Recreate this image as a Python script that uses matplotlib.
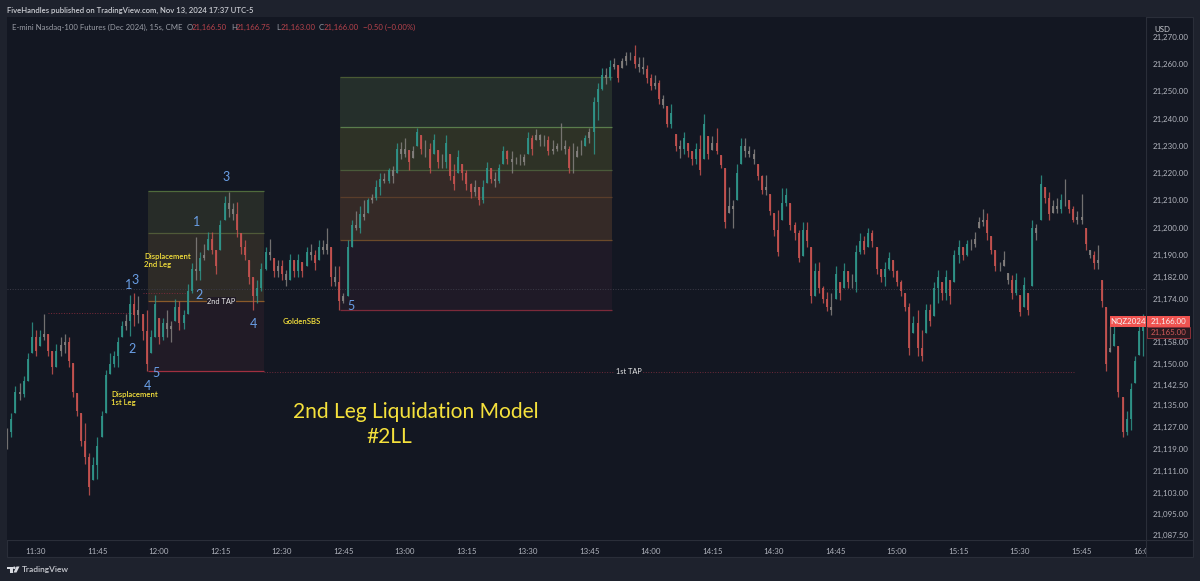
import numpy as np
import matplotlib
matplotlib.use("Agg")
import matplotlib.pyplot as plt
from matplotlib.patches import Rectangle, Polygon, Circle
from matplotlib.transforms import Bbox

plt.rcParams['font.family'] = ['Lato', 'DejaVu Sans']

BG = "#131722"
STRIP = "#1e222d"
BORDER = "#2a2e39"
UP = "#2f9489"
DOWN = "#c4524f"
MIXED = "#84807e"
YELLOW = "#f5e13c"
BLUE = "#6a9fe6"

# one bar per minute, first bar is 11:23
start_minute = 11 * 60 + 23

highs = [
    21126.5, 21132, 21142, 21143, 21145.5, 21154, 21165.5, 21162.5, 21162.5, 21168.5,
    21161, 21155, 21157.5, 21160, 21161, 21160, 21150.5, 21139.5, 21132, 21128.5,
    21117.5, 21116, 21123.5, 21133, 21148, 21154, 21155, 21160, 21166, 21168.5,
    21175.5, 21176, 21175, 21168.5, 21170, 21162.5, 21175.5, 21167, 21167, 21170,
    21166, 21174, 21173, 21170, 21179.5, 21187, 21196.5, 21191, 21194, 21198.5,
    21198.5, 21192, 21203, 21211.5, 21213, 21209, 21209.5, 21198, 21195.5, 21188,
    21182, 21181, 21187, 21193, 21196, 21189, 21188, 21188, 21184.5, 21190.5,
    21188, 21190.5, 21187.5, 21193, 21194, 21192, 21195.5, 21195.5, 21200, 21193,
    21186, 21186, 21176, 21195.5, 21203, 21206, 21208, 21210, 21211, 21212.5,
    21217.5, 21220, 21220, 21222, 21222.5, 21231, 21231.5, 21233, 21228.5, 21230,
    21236.5, 21234, 21232, 21231, 21234.5, 21228.5, 21227, 21234, 21227, 21223.5,
    21228.5, 21223.5, 21221, 21216.5, 21217.5, 21215, 21217.5, 21224, 21222, 21220.5,
    21223.5, 21230, 21228.5, 21228, 21226, 21227, 21227, 21235, 21234, 21236,
    21234.5, 21234, 21233.5, 21232, 21231, 21238.5, 21232, 21230, 21231, 21230,
    21232, 21234, 21236.5, 21248, 21253, 21258.5, 21258.5, 21261.5, 21262, 21259.5,
    21262, 21264.5, 21264.5, 21267, 21262.5, 21262.5, 21259.5, 21256.5, 21256, 21254,
    21248.5, 21244.5, 21245.5, 21234.5, 21232, 21235, 21231, 21228, 21231, 21234,
    21241.5, 21233.5, 21233.5, 21236.5, 21226.5, 21222, 21215, 21210, 21223.5, 21233,
    21233, 21230, 21229, 21223.5, 21219.5, 21219.5, 21212.5, 21205.5, 21206.5, 21214.5,
    21214.5, 21209, 21202, 21199, 21202, 21202, 21193, 21187, 21187.5, 21178.5,
    21176.5, 21176, 21186, 21180, 21187, 21184, 21183, 21193.5, 21198, 21197,
    21200, 21199, 21193, 21185, 21187.5, 21191, 21188, 21184.5, 21181, 21176,
    21172.5, 21167.5, 21170, 21162.5, 21172, 21172, 21180, 21184.5, 21180, 21184.5,
    21181, 21192, 21195.5, 21193, 21195.5, 21196, 21198.5, 21204, 21207, 21205.5,
    21197, 21192, 21187.5, 21191.5, 21183.5, 21182.5, 21183.5, 21175.5, 21182, 21176,
    21203, 21201.5, 21219.5, 21215, 21213, 21210, 21211, 21212.5, 21218, 21210,
    21208, 21206, 21212.5, 21200, 21192, 21191.5, 21193.5, 21181, 21171, 21164,
    21164, 21156.5, 21138, 21133, 21143, 21153, 21164, 21168.5,
]
lows = [
    21119, 21123.5, 21132, 21137, 21138, 21144, 21154, 21153, 21156.5, 21159,
    21153, 21146.5, 21149, 21153, 21154, 21149, 21138, 21131, 21120, 21113.5,
    21102, 21107.5, 21108, 21123.5, 21132, 21146.5, 21149, 21149, 21160, 21162.5,
    21160.5, 21164, 21165, 21159, 21147.5, 21154, 21160, 21157.5, 21159, 21160,
    21158, 21166, 21162.5, 21163, 21168.5, 21176, 21181, 21181, 21188, 21192,
    21190.5, 21183, 21192, 21203, 21204, 21203, 21196.5, 21190.5, 21188, 21179.5,
    21170, 21172.5, 21177, 21184.5, 21188, 21182, 21182, 21181, 21178.5, 21181,
    21182, 21182, 21182, 21186, 21188, 21184.5, 21188, 21190.5, 21190.5, 21178.5,
    21178.5, 21170, 21172.5, 21175, 21193, 21199, 21198, 21203, 21205.5, 21209,
    21210, 21212, 21216.5, 21216.5, 21216.5, 21220, 21225, 21226, 21221, 21225.5,
    21230, 21227, 21226, 21220, 21227, 21222, 21222, 21222, 21217.5, 21214,
    21220, 21217.5, 21214, 21211, 21211.5, 21208.5, 21209, 21216.5, 21216.5, 21215,
    21216.5, 21223.5, 21223.5, 21220, 21223.5, 21223, 21223, 21227, 21226.5, 21232,
    21230, 21230, 21226.5, 21227, 21228, 21228.5, 21227, 21220, 21220, 21226,
    21226.5, 21230, 21231, 21227, 21239.5, 21250.5, 21252.5, 21254, 21258, 21253.5,
    21258.5, 21259.5, 21261.5, 21258.5, 21257, 21256.5, 21253, 21250.5, 21251, 21245.5,
    21244, 21237, 21236.5, 21228, 21225.5, 21227, 21226, 21223, 21223.5, 21219.5,
    21225, 21225, 21228.5, 21227, 21222, 21200, 21205.5, 21200, 21210, 21223.5,
    21226, 21226, 21223.5, 21217.5, 21212.5, 21212, 21204.5, 21197, 21189.5, 21203,
    21208, 21199, 21195.5, 21187.5, 21189.5, 21193, 21172.5, 21175, 21176, 21172.5,
    21169.5, 21168, 21174, 21173.5, 21178, 21178, 21178, 21176.5, 21190.5, 21190.5,
    21193, 21193, 21183, 21180, 21178.5, 21184.5, 21182, 21178.5, 21175, 21169.5,
    21153.5, 21161.5, 21153, 21151, 21161.5, 21164, 21167.5, 21172.5, 21173.5, 21173.5,
    21172, 21180, 21187, 21188, 21189.5, 21192, 21193, 21200, 21200.5, 21195.5,
    21190.5, 21184, 21184, 21186, 21179.5, 21174, 21175.5, 21167.5, 21171, 21168,
    21178.5, 21195.5, 21203, 21209, 21203, 21205.5, 21205.5, 21205.5, 21208, 21205.5,
    21202, 21201.5, 21201.5, 21192, 21189, 21185, 21185, 21171, 21147.5, 21154.5,
    21156.5, 21138, 21123.5, 21124, 21126, 21143, 21153.5, 21153,
]
closes = [
    21125, 21130, 21140, 21139, 21144, 21152, 21160, 21155, 21160, 21161,
    21155, 21149, 21155, 21157, 21158, 21151, 21140, 21133, 21122, 21116,
    21105, 21113, 21120, 21131, 21146, 21150, 21153, 21158, 21164, 21166,
    21172, 21168, 21170, 21162, 21150, 21160, 21172, 21160, 21165, 21163,
    21164, 21171, 21165, 21168, 21177, 21185, 21184, 21189, 21190, 21196,
    21192, 21186, 21201, 21209, 21207, 21205, 21199, 21193, 21190, 21182,
    21175, 21178, 21185, 21191, 21190, 21184, 21186, 21183, 21181, 21188,
    21184, 21188, 21184, 21191, 21190, 21187, 21193, 21192, 21194, 21182,
    21180, 21173, 21175, 21193, 21201, 21200, 21205, 21204, 21210, 21211,
    21215, 21218, 21217, 21221, 21219, 21229, 21227, 21229, 21224, 21228,
    21235, 21229, 21229, 21222, 21232, 21224, 21224, 21231, 21219, 21216,
    21226, 21220, 21216, 21213, 21215, 21210, 21215, 21222, 21218, 21217,
    21222, 21228, 21225, 21224, 21224, 21224, 21226, 21233, 21229, 21234,
    21232, 21232, 21228, 21229, 21230, 21230, 21229, 21222, 21222, 21228,
    21228, 21233, 21235, 21246, 21251, 21256, 21255, 21259, 21260, 21255,
    21261, 21263, 21263, 21260, 21259, 21258, 21255, 21252, 21253, 21247,
    21245, 21238, 21242, 21230, 21229, 21233, 21228, 21225, 21229, 21221,
    21238, 21227, 21231, 21228, 21223, 21202, 21208, 21207, 21220, 21230,
    21228, 21227, 21225, 21219, 21214, 21215, 21206, 21199, 21191, 21209,
    21212, 21201, 21198, 21189, 21199, 21195, 21175, 21184, 21178, 21174,
    21171, 21170, 21183, 21176, 21184, 21180, 21180, 21191, 21195, 21192,
    21198, 21195, 21185, 21182, 21185, 21189, 21184, 21180, 21177, 21171,
    21156, 21165, 21156, 21153, 21170, 21166, 21178, 21182, 21176, 21182,
    21175, 21190, 21193, 21190, 21194, 21194, 21196, 21202, 21203, 21198,
    21192, 21186, 21186, 21188, 21181, 21176, 21181, 21169, 21179, 21170,
    21200, 21198, 21216, 21211, 21205, 21208, 21207, 21210, 21210, 21207,
    21203, 21204, 21203, 21194, 21190, 21187, 21188, 21173, 21150, 21156,
    21161, 21140, 21125, 21130, 21141, 21151, 21162, 21166,
]

# time axis
time_ticks = [690, 705, 720, 735, 750, 765, 780, 795, 810, 825, 840, 855, 870, 885, 900, 915, 930, 945, 960]
time_labels = ["11:30", "11:45", "12:00", "12:15", "12:30", "12:45", "13:00", "13:15", "13:30", "13:45",
               "14:00", "14:15", "14:30", "14:45", "15:00", "15:15", "15:30", "15:45", "16:00"]
# price axis
price_ticks = [21270, 21260, 21250, 21240, 21230, 21220, 21210, 21200, 21190, 21182, 21174,
               21158, 21150, 21142.5, 21135, 21127, 21119, 21111, 21103, 21095, 21087.5]

# fib boxes: minute from / to, level prices top to bottom
box1_span = (717.2, 745.7)
box1_levels = [21213.5, 21198, 21173, 21147.6]
box1_fills = ["#272c28", "#2e2b27", "#211b26"]
box1_lines = ["#4f6b3c", "#4f5a38", "#8a5a2a", "#a03040"]
box2_span = (764.1, 830.4)
box2_levels = [21255.1, 21236.9, 21221.2, 21211.4, 21195.5, 21169.9]
box2_fills = ["#252f2b", "#2e3226", "#352a27", "#352a27", "#1f1a27"]
box2_lines = ["#4a5a34", "#5a7d4c", "#4a5a3a", "#5a3d2a", "#6b4a2a", "#7c2a3a"]

fig = plt.figure(figsize=(12, 5.81), dpi=100, facecolor=STRIP)

# panels behind the chart
back = fig.add_axes([0, 0, 1, 1], zorder=0)
back.set_xlim(0, 1200)
back.set_ylim(581, 0)
back.axis("off")
back.add_patch(Rectangle((7, 17), 1186, 540, fc=BG, ec=BORDER, lw=0.8))
back.plot([7, 1193], [540, 540], color=BORDER, lw=0.8)
back.plot([1146, 1146], [17, 557], color=BORDER, lw=0.8)

ax = fig.add_axes([7 / 1200, 41 / 581, 1139 / 1200, 523 / 581], zorder=1)
ax.set_facecolor(BG)
ax.set_xlim(682.93, 960.73)
ax.set_ylim(21085.6, 21277.2)
for s in ax.spines.values():
    s.set_visible(False)

ax.yaxis.tick_right()
ax.set_yticks(price_ticks)
ax.set_yticklabels(["{:,.2f}".format(p) for p in price_ticks])
ax.set_xticks(time_ticks)
ax.set_xticklabels(time_labels)
ax.tick_params(axis="y", length=0, pad=5, labelsize=5.7, labelcolor="#b2b5be")
ax.tick_params(axis="x", length=0, pad=5.5, labelsize=5.7, labelcolor="#b2b5be")
for lab in ax.get_xticklabels():
    lab.set_clip_on(True)
    lab.set_clip_box(Bbox.from_extents(7, 0, 1146, 60))

def draw_box(span, levels, fills, lines):
    for i in range(len(fills)):
        ax.fill_between(span, levels[i + 1], levels[i], color=fills[i], lw=0, zorder=1)
    for lev, c in zip(levels, lines):
        ax.hlines(lev, span[0], span[1], color=c, lw=0.9, zorder=2)

draw_box(box1_span, box1_levels, box1_fills, box1_lines)
draw_box(box2_span, box2_levels, box2_fills, box2_lines)

# dotted levels
ax.axhline(21177.5, color="#3d3c48", lw=0.7, ls=":", zorder=2)
ax.hlines(21168.7, 693, 713.5, color="#7c2a3a", lw=0.7, ls=":", zorder=2)
ax.hlines(21176, 716, 727, color="#7c2a3a", lw=0.7, ls=":", zorder=2)
ax.hlines(21147.3, 745.7, 943.5, color="#6e2a3a", lw=0.7, ls=":", zorder=2)

# candles, bars with almost no body look grey in the 15s original
highs = np.array(highs)
lows = np.array(lows)
closes = np.array(closes, dtype=float)
opens = np.clip(np.r_[closes[0], closes[:-1]], lows, highs)
closes = np.clip(closes, lows, highs)
minutes = start_minute + np.arange(len(closes))
cols = np.where(np.abs(closes - opens) < 3, MIXED, np.where(closes > opens, UP, DOWN))
ax.vlines(minutes, lows, highs, colors=cols, lw=0.9, alpha=0.85, zorder=3)
ax.vlines(minutes, opens, closes, colors=cols, lw=1.3, zorder=4)

# everything written over the chart, placed in picture pixels
top = fig.add_axes([0, 0, 1, 1], zorder=2)
top.set_xlim(0, 1200)
top.set_ylim(581, 0)
top.axis("off")
top.patch.set_alpha(0)

top.text(7, 10, "FiveHandles published on TradingView.com, Nov 13, 2024 17:37 UTC-5",
         color="#c9cbd1", fontsize=5.55, va="center", weight="semibold")
top.text(12, 27, "E-mini Nasdaq-100 Futures (Dec 2024), 15s, CME", color="#9a9da6", fontsize=5.6, va="center")
legend_red = "#b8434c"
for x, letter, val in [(187, "O", "21,166.50"), (231, "H", "21,166.75"), (276, "L", "21,163.00"), (319, "C", "21,166.00")]:
    top.text(x, 27, letter, color="#9a9da6", fontsize=5.6, va="center")
    top.text(x + 5, 27, val, color=legend_red, fontsize=5.6, va="center")
top.text(363, 27, "\u22120.50 (\u22120.00%)", color=legend_red, fontsize=5.6, va="center")
top.text(1154, 29, "USD", color="#c9cbd1", fontsize=5.7, va="center")

# price flags
top.add_patch(Rectangle((1110, 316), 36, 11, fc="#ef5350", ec="none"))
top.text(1128, 321.5, "NQZ2024", color="#f4f4f4", fontsize=5.7, ha="center", va="center")
top.add_patch(Rectangle((1147, 316), 43, 11, fc="#ef5350", ec="none"))
top.text(1169, 321.5, "21,166.00", color="#f4f4f4", fontsize=5.7, ha="center", va="center")
top.add_patch(Rectangle((1147, 327), 43, 11, fc="#2a1a20", ec="#8c3038", lw=0.7))
top.text(1169, 332.5, "21,165.00", color="#d05a5a", fontsize=5.7, ha="center", va="center")

# wave counts
for x, y, s in [(129, 285, "1"), (135.5, 280, "3"), (132, 349, "2"), (147, 386, "4"), (156, 373, "5"),
                (197, 222, "1"), (226, 177, "3"), (199, 295, "2"), (253, 324, "4"), (351, 306, "5")]:
    top.text(x, y, s, color=BLUE, fontsize=9, ha="center", va="center")

top.text(144, 257, "Displacement", color=YELLOW, fontsize=5.6, va="center", weight="semibold")
top.text(144, 265, "2nd Leg", color=YELLOW, fontsize=5.6, va="center", weight="semibold")
top.text(111, 395, "Displacement", color=YELLOW, fontsize=5.6, va="center", weight="semibold")
top.text(111, 403, "1st Leg", color=YELLOW, fontsize=5.6, va="center", weight="semibold")
top.text(301.5, 322, "GoldenSBS", color=YELLOW, fontsize=5.6, ha="center", va="center", weight="semibold")
top.text(221.5, 301, "2nd TAP", color="#e8e8e8", fontsize=5.3, ha="center", va="center",
         bbox=dict(fc="#211b26", ec="none", pad=0.6))
top.text(629, 372, "1st TAP", color="#e8e8e8", fontsize=5.3, ha="center", va="center",
         bbox=dict(fc=BG, ec="none", pad=0.8))

top.text(293, 412, "2nd Leg Liquidation Model", color=YELLOW, fontsize=15.1, va="center")
top.text(366, 437, "#2LL", color=YELLOW, fontsize=15.1, va="center")

# logo
logo = "#d8dae0"
top.add_patch(Rectangle((7, 566.5), 5.5, 2, fc=logo, ec="none"))
top.add_patch(Rectangle((9.7, 566.5), 2.8, 6, fc=logo, ec="none"))
top.add_patch(Circle((14.3, 567.8), 1.3, fc=logo, ec="none"))
top.add_patch(Polygon([(16.5, 566.5), (19.5, 566.5), (16.5, 572.5), (13.5, 572.5)], fc=logo, ec="none"))
top.text(22, 569.5, "TradingView", color="#c9cbd1", fontsize=6, va="center", weight="semibold")

fig.savefig("out.png", dpi=100, facecolor=fig.get_facecolor())
